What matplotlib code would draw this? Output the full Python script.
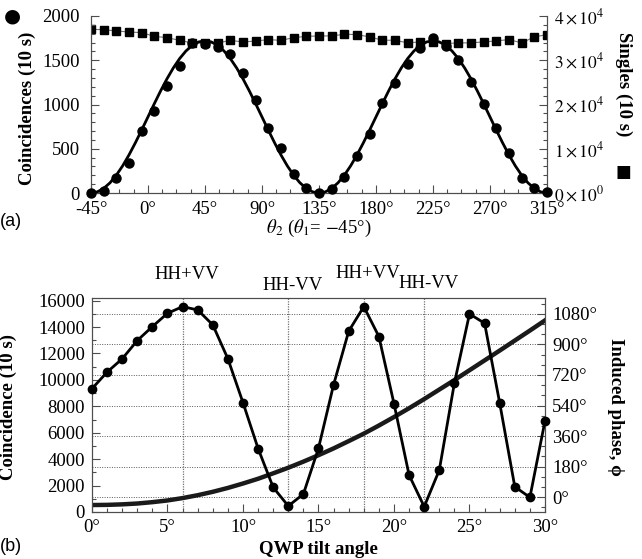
import matplotlib
matplotlib.use("Agg")
import matplotlib.pyplot as plt
import numpy as np
from matplotlib.ticker import MultipleLocator

plt.rcParams['font.family'] = ['Liberation Serif', 'DejaVu Serif']
plt.rcParams['mathtext.fontset'] = 'stix'

# =============== panel (a) data ===============
theta2 = [-45, -35, -25, -15, -5, 5, 15, 25, 35, 45, 55, 65, 75, 85, 95, 105, 115, 125,
          135, 145, 155, 165, 175, 185, 195, 205, 215, 225, 235, 245, 255, 265, 275, 285,
          295, 305, 315]
coinc_a = [0, 20, 170, 343, 697, 923, 1205, 1435, 1695, 1687, 1650, 1575, 1356, 1047, 734,
           508, 218, 60, 0, 45, 180, 417, 668, 1013, 1238, 1463, 1640, 1756, 1662, 1508,
           1257, 1006, 732, 450, 169, 56, 8]
singles_a = [36986, 36911, 36610, 36384, 36234, 35405, 35104, 34501, 33898, 33898, 33898,
             34501, 34124, 34350, 34652, 34501, 35104, 35405, 35480, 35497, 35872, 35797,
             35272, 34522, 34522, 33921, 34146, 34146, 33771, 33921, 33921, 34146, 34371,
             34672, 33921, 35272, 35797]

# fit curve every 5 deg
fit_theta = list(range(-45, 320, 5))
fit_half = [0, 13, 52, 115, 201, 307, 430, 566, 711, 860, 1009, 1154, 1290, 1413, 1519,
            1605, 1668, 1707, 1720, 1707, 1668, 1605, 1519, 1413, 1290, 1154, 1009, 860,
            711, 566, 430, 307, 201, 115, 52, 13]
fit_a = fit_half + fit_half + [0]

xticks_a = [-45, 0, 45, 90, 135, 180, 225, 270, 315]
xlabels_a = ['-45°', '0°', '45°', '90°', '135°', '180°', '225°', '270°', '315°']
yticks_a = [0, 500, 1000, 1500, 2000]
yticks_a2 = [0, 10000, 20000, 30000, 40000]
ylabels_a2 = [r'$0\times10^{0}$', r'$1\times10^{4}$', r'$2\times10^{4}$',
              r'$3\times10^{4}$', r'$4\times10^{4}$']

# =============== panel (b) data ===============
tilt = list(range(0, 31))
coinc_b = [9336, 10591, 11597, 12981, 14038, 15044, 15547, 15296, 14164, 11597, 8277,
           4805, 1862, 453, 1358, 4830, 9635, 13686, 15547, 13283, 8201, 2792, 403, 3170,
           9761, 14994, 14289, 8252, 1912, 1107, 6893]
phase_b = [-47, -46, -43, -38, -30, -20, -6, 11, 31, 54, 80, 108, 140, 173, 209, 247, 287,
           330, 374, 422, 472, 524, 578, 634, 690, 748, 806, 864, 923, 982, 1042]

marks_pos = [6, 13, 18, 22]
marks_txt = ['HH+VV', 'HH-VV', 'HH+VV', 'HH-VV']
marks_y = [1.07, 1.02, 1.075, 1.03]

xticks_b = [0, 5, 10, 15, 20, 25, 30]
xlabels_b = ['0°', '5°', '10°', '15°', '20°', '25°', '30°']
yticks_b = [0, 2000, 4000, 6000, 8000, 10000, 12000, 14000, 16000]
yticks_b2 = [0, 180, 360, 540, 720, 900, 1080]
ylabels_b2 = ['0°', '180°', '360°', '540°', '720°', '900°', '1080°']

fs = 13.5

fig = plt.figure(figsize=(6.42, 5.59), dpi=100)


def style_ticks(axes):
    for a in axes:
        a.tick_params(which='both', direction='in', width=0.8, color='0.3')
        a.tick_params(which='major', length=6)
        a.tick_params(which='minor', length=3)
        a.tick_params(axis='y', pad=5)
        a.tick_params(axis='x', pad=6)
        for s in a.spines.values():
            s.set_color('0.3')
            s.set_linewidth(0.8)


# ---------- (a) ----------
ax1 = fig.add_axes([0.1417, 0.6547, 0.7103, 0.3167])
ax1r = ax1.twinx()
ax1r.plot(theta2, singles_a, color='0.45', lw=0.8, marker='s', ms=6,
          mfc='k', mec='k', zorder=2)
ax1.plot(fit_theta, fit_a, color='k', lw=2.0, zorder=3)
ax1.plot(theta2, coinc_a, 'o', color='k', ms=6.5, zorder=4, clip_on=False)
ax1.set_zorder(ax1r.get_zorder() + 1)
ax1.patch.set_visible(False)

ax1.set_xlim(-45, 315)
ax1.set_ylim(0, 2000)
ax1r.set_ylim(0, 40000)
for a in (ax1, ax1r):
    a.spines['top'].set_visible(False)
ax1.set_xticks(xticks_a)
ax1.set_xticklabels(xlabels_a, fontsize=fs)
ax1.xaxis.set_minor_locator(MultipleLocator(11.25))
ax1.set_yticks(yticks_a)
ax1.set_yticklabels([str(v) for v in yticks_a], fontsize=fs)
ax1.yaxis.set_minor_locator(MultipleLocator(100))
ax1r.set_yticks(yticks_a2)
ax1r.set_yticklabels(ylabels_a2, fontsize=12.5)
ax1r.yaxis.set_minor_locator(MultipleLocator(2000))
style_ticks((ax1, ax1r))
ax1.tick_params(axis='y', pad=8)
ax1.set_xlabel(r'$\theta_2$ ($\theta_1$= $-$45°)', fontsize=fs, labelpad=0)
ax1.text(-0.14, 0.91, 'Coincidences (10 s)', transform=ax1.transAxes, rotation=90,
         fontsize=fs, fontweight='bold', ha='center', va='top')
ax1.text(-0.172, 1.0, '●', transform=ax1.transAxes, fontsize=14, ha='center',
         va='center', family='DejaVu Sans')
ax1r.text(1.168, 0.91, 'Singles (10 s)', transform=ax1r.transAxes, rotation=-90,
          fontsize=fs, fontweight='bold', ha='center', va='top')
ax1r.text(1.168, 0.12, '■', transform=ax1r.transAxes, fontsize=12, ha='center',
          va='center', family='DejaVu Sans')
fig.text(0.0, 0.603, '(a)', fontsize=13, family='Liberation Sans', va='center')

# ---------- (b) ----------
ax2 = fig.add_axes([0.1433, 0.0841, 0.7056, 0.3828])
ax2r = ax2.twinx()
ax2r.set_ylim(-88, 1174)
ax2r.set_yticks(yticks_b2)
ax2r.set_yticklabels(ylabels_b2, fontsize=fs)
ax2r.yaxis.set_minor_locator(MultipleLocator(60))
ax2r.grid(axis='y', which='major', color='0.35', ls=(0, (1, 1.5)), lw=0.7)
ax2r.plot(tilt, phase_b, color='0.1', lw=3.2, zorder=2)
for xm in marks_pos:
    ax2r.axvline(xm, color='0.45', ls=(0, (1, 1)), lw=0.9, zorder=1)

ax2.plot(tilt, coinc_b, '-o', color='k', lw=2.0, ms=6, zorder=4, clip_on=False)
ax2.set_zorder(ax2r.get_zorder() + 1)
ax2.patch.set_visible(False)
ax2.set_xlim(0, 30)
ax2.set_ylim(0, 16200)
ax2.set_xticks(xticks_b)
ax2.set_xticklabels(xlabels_b, fontsize=fs)
ax2.xaxis.set_minor_locator(MultipleLocator(1))
ax2.set_yticks(yticks_b)
ax2.set_yticklabels([str(v) for v in yticks_b], fontsize=fs)
ax2.yaxis.set_minor_locator(MultipleLocator(1000))
style_ticks((ax2, ax2r))
ax2.tick_params(axis='x', pad=5)

for xm, txt, ym in zip(marks_pos, marks_txt, marks_y):
    ax2.text(xm + 0.3, ym, txt, transform=ax2.get_xaxis_transform(), fontsize=fs,
             ha='center', va='bottom')

ax2.set_xlabel('QWP tilt angle', fontsize=fs, fontweight='bold', labelpad=4)
ax2.set_ylabel('Coincidence (10 s)', fontsize=fs, fontweight='bold')
ax2.yaxis.set_label_coords(-0.165, 0.49)
ax2r.set_ylabel('Induced phase, ϕ', fontsize=fs, fontweight='bold', rotation=-90,
                family=['Liberation Serif', 'DejaVu Serif'])
ax2r.yaxis.set_label_coords(1.175, 0.49)
fig.text(0.0, 0.022, '(b)', fontsize=13, family='Liberation Sans', va='center')

fig.savefig('out.png', dpi=100)
